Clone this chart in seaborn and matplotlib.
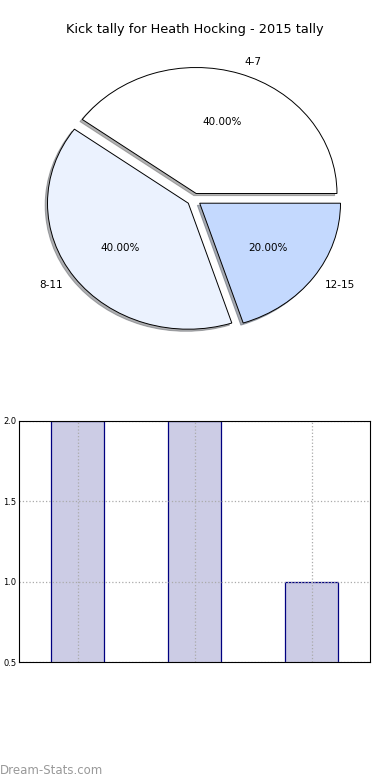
import matplotlib
matplotlib.use('Agg')
import matplotlib.pyplot as plt
import seaborn as sns

# kick tally bins and counts
bins = ['4-7', '8-11', '12-15']
counts = [2, 2, 1]
pie_colors = ['#FFFFFF', '#EBF2FE', '#C4D9FE']
title = 'Kick tally for Heath Hocking - 2015 tally'

sns.set_style('white')
plt.rcParams['font.family'] = ['DejaVu Sans']
plt.rcParams['text.color'] = 'black'
plt.rcParams['ytick.color'] = 'black'

fig = plt.figure(figsize=(3.9, 7.8), dpi=100)

# pie chart on top
ax1 = fig.add_axes([18 / 390, 1 - 357 / 780, 352 / 390, 315 / 780])
wedges, texts, autotexts = ax1.pie(
    counts, labels=bins, colors=pie_colors, autopct='%.2f%%',
    explode=[0.05] * len(counts), startangle=0,
    shadow={'ox': -0.012, 'oy': -0.012, 'shade': 0.6},
    wedgeprops={'edgecolor': 'black', 'linewidth': 0.7},
    textprops={'fontsize': 7.5, 'color': 'black'})
ax1.set_aspect('auto')
ax1.set_xlim(-1.25, 1.25)
ax1.set_ylim(-1.25, 1.25)
fig.text(0.5, 1 - 30 / 780, title, ha='center', va='center', fontsize=9.3,
         color='black')

# bar chart below
ax2 = fig.add_axes([19 / 390, 1 - 662 / 780, 351 / 390, 241 / 780])
sns.barplot(x=bins, y=counts, ax=ax2, width=0.45, saturation=1,
            color=(0, 0, 0.5, 0.2), edgecolor='navy', linewidth=0.9)
for p in ax2.patches:
    p.set_facecolor((0, 0, 0.5, 0.2))
    p.set_edgecolor('navy')
ax2.set_xlim(-0.5, 2.5)
ax2.set_ylim(0.5, 2.0)
ax2.set_yticks([0.5, 1.0, 1.5, 2.0])
ax2.set_xticklabels([])
ax2.set_xlabel('')
ax2.set_ylabel('')
ax2.grid(True, linestyle=':', color='#aaaaaa', linewidth=0.9)
ax2.set_axisbelow(False)
ax2.tick_params(axis='y', labelsize=6, pad=2, direction='in', length=3)
ax2.tick_params(axis='x', length=0)
for s in ax2.spines.values():
    s.set_color('black')
    s.set_linewidth(0.8)
    s.set_zorder(3)

fig.text(0.0, 1 - 771 / 780, 'Dream-Stats.com', ha='left', va='center',
         fontsize=8.5, color='#999999')

fig.savefig('out.png', dpi=100)
